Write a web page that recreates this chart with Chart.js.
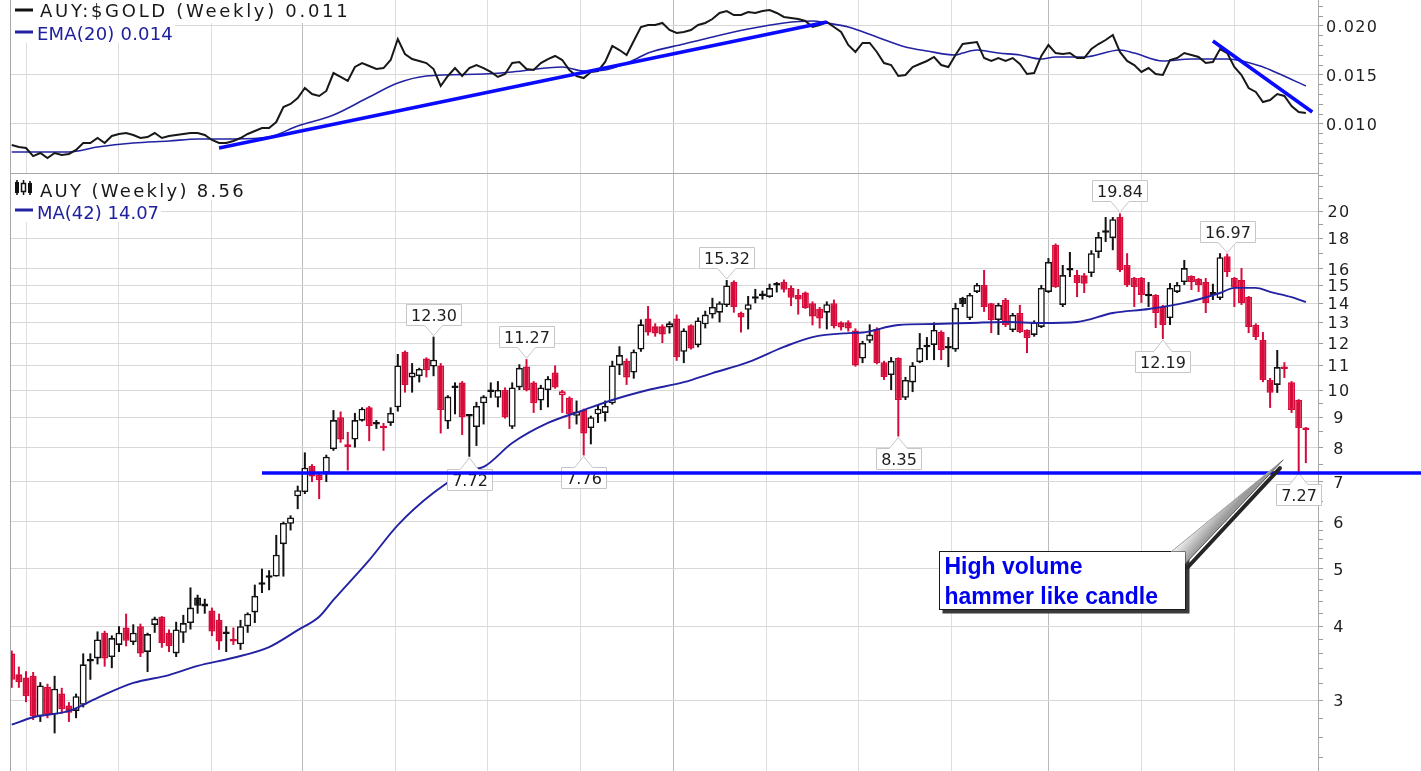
<!DOCTYPE html>
<html><head><meta charset="utf-8">
<script src="https://cdn.jsdelivr.net/npm/chart.js@4.4.1/dist/chart.umd.min.js"></script>
<style>
html,body{margin:0;padding:0;background:#fff;width:1421px;height:771px;overflow:hidden}
canvas{position:absolute;left:0;display:block}
#topC{top:0}
#botC{top:173px}
</style></head><body>
<canvas id="topC" width="1421" height="173"></canvas>
<canvas id="botC" width="1421" height="598"></canvas>
<script>
// ---------------- DATA ----------------
const open = [
3.60,3.32,3.28,3.30,2.82,3.16,2.84,3.08,2.94,2.88,
2.95,3.52,3.53,3.90,3.55,3.72,3.98,3.76,4.00,3.62,
4.02,4.15,3.90,3.60,3.90,4.05,4.47,4.32,4.25,4.10,
3.90,3.80,3.73,4.00,4.22,4.70,4.83,4.85,5.50,5.95,
6.62,6.73,7.45,7.20,7.25,7.95,9.00,8.10,8.25,8.88,
9.35,8.75,8.70,8.80,9.35,11.6,10.5,10.55,11.3,10.95,
11.0,8.85,10.1,10.3,9.05,8.66,9.50,9.92,9.70,10.0,
8.67,10.1,10.95,10.3,9.60,10.0,10.7,9.80,9.70,9.05,
9.25,8.63,9.10,9.15,9.50,11.0,11.2,10.7,11.7,13.2,
12.8,12.8,12.75,13.2,11.6,12.85,11.9,12.9,13.4,13.5,
13.9,15.2,13.5,13.65,14.3,14.4,14.35,15.0,15.2,14.85,
14.45,14.6,14.0,13.7,13.5,14.0,13.0,13.0,12.6,11.3,
12.1,12.67,11.14,10.6,11.32,9.70,10.3,11.14,11.8,11.91,
12.52,11.75,11.7,14.29,13.22,14.63,15.03,14.0,13.12,14.18,
12.62,13.48,12.62,12.38,12.77,14.63,17.55,13.91,15.9,15.62,
15.6,15.74,17.08,18.4,18.03,19.56,16.24,15.44,15.44,14.38,
14.46,13.8,13.22,14.63,15.2,15.56,15.38,15.2,14.46,14.29,
16.8,15.44,15.32,14.34,12.87,12.14,10.4,10.2,10.9,10.31,
9.62,8.6];
const high = [
3.64,3.42,3.36,3.35,3.22,3.20,3.30,3.15,2.98,3.08,
3.60,3.60,3.92,3.93,3.86,4.00,4.20,4.03,4.04,3.90,
4.15,4.16,3.95,4.07,4.18,4.65,4.52,4.45,4.30,4.20,
4.00,3.98,4.10,4.22,4.70,5.00,4.97,5.70,6.00,6.15,
6.90,7.85,7.50,7.25,7.78,9.25,9.20,8.50,9.15,9.35,
9.40,8.90,8.80,9.35,11.5,11.65,11.1,10.9,11.35,12.30,
11.1,9.80,10.3,10.35,9.10,9.55,9.80,10.3,10.35,10.1,
10.3,11.05,11.27,10.35,10.2,10.55,11.0,10.0,9.75,9.60,
9.30,9.05,9.45,9.60,11.2,11.85,11.3,11.7,13.15,13.85,
12.95,12.9,13.05,13.4,12.7,12.9,13.25,13.6,14.3,14.1,
15.32,15.3,13.55,14.4,14.8,14.7,15.1,15.2,15.35,15.0,
14.8,14.65,14.1,13.8,14.1,14.2,13.05,13.1,12.7,12.1,
12.9,12.75,11.2,11.36,11.35,10.52,11.14,12.47,12.28,13.0,
12.6,12.28,14.02,14.35,14.57,15.14,15.93,14.02,14.02,14.29,
13.48,13.91,12.65,13.1,15.03,16.68,17.65,16.24,17.08,15.93,
15.74,17.2,18.46,19.56,19.56,19.84,17.0,15.5,15.5,15.2,
14.5,13.91,15.14,15.2,16.56,15.6,15.44,15.44,15.1,17.0,
16.97,15.5,16.05,14.4,12.95,12.52,10.48,11.68,11.14,10.35,
9.65,8.66];
const low = [
3.15,3.15,2.98,2.78,2.76,2.80,2.64,2.85,2.76,2.80,
2.92,3.25,3.45,3.42,3.40,3.62,3.70,3.72,3.55,3.35,
3.90,3.68,3.62,3.55,3.75,3.95,4.20,4.20,3.85,3.65,
3.62,3.72,3.65,3.90,4.05,4.55,4.60,4.85,4.85,5.80,
6.30,6.68,7.00,6.55,7.00,7.90,8.15,7.32,8.00,8.85,
8.20,8.60,7.90,8.70,9.20,9.90,9.90,10.3,10.5,10.55,
8.45,8.60,9.10,8.40,7.72,8.05,8.75,9.70,9.35,8.95,
8.60,10.0,9.95,9.15,9.25,9.35,10.05,9.15,8.60,8.75,
7.76,8.10,8.80,8.85,9.45,10.6,10.2,10.45,11.6,12.35,
12.3,12.0,12.45,11.2,11.1,11.7,11.8,12.7,13.2,13.0,
13.8,13.5,12.5,12.65,14.0,14.2,14.3,14.6,14.6,13.85,
13.4,13.7,12.85,12.7,12.65,12.7,12.6,12.55,10.95,11.1,
12.0,11.05,10.4,10.0,8.35,9.62,9.92,11.1,11.23,11.23,
11.23,10.93,11.6,13.8,13.12,14.57,13.54,12.47,12.38,12.77,
12.52,12.47,11.54,12.3,12.72,14.57,14.86,13.8,15.5,14.34,
14.57,15.5,16.68,17.76,17.2,15.8,14.91,13.8,14.02,13.8,
12.72,12.19,12.87,14.57,15.03,14.74,14.63,13.48,14.18,14.18,
15.5,13.8,13.91,12.47,12.14,10.31,9.33,9.89,10.48,9.15,
7.27,7.53];
const close = [
3.25,3.22,3.05,2.82,3.18,2.84,3.14,2.90,2.86,3.05,
3.45,3.49,3.80,3.53,3.82,3.90,3.78,3.90,3.60,3.88,
4.12,3.75,3.70,3.95,4.05,4.30,4.33,4.37,3.92,3.77,
3.88,3.77,4.00,4.20,4.50,4.73,4.85,5.28,5.97,6.10,
6.78,7.40,7.15,7.05,7.72,8.90,8.25,8.02,8.90,9.30,
8.70,8.77,8.62,9.15,11.0,10.2,10.7,10.85,10.8,11.25,
9.25,9.75,10.08,9.00,9.02,9.40,9.75,9.97,10.0,9.00,
10.1,10.9,10.0,9.50,10.1,10.45,10.1,9.95,9.10,9.20,
8.45,9.00,9.30,9.40,11.0,11.45,10.5,11.6,12.9,12.5,
12.45,12.4,12.95,11.35,12.6,11.75,13.1,13.4,13.8,14.0,
15.0,13.8,13.25,13.95,14.25,14.45,14.85,15.02,14.75,14.3,
14.2,13.75,13.3,13.2,13.95,12.8,12.75,12.7,11.0,12.0,
12.4,11.1,10.52,11.2,9.62,10.4,11.0,11.77,11.85,12.62,
11.68,11.8,13.75,13.95,14.46,15.03,13.8,13.12,13.91,12.87,
13.38,12.52,12.23,13.02,14.86,16.43,14.91,15.62,15.95,15.14,
15.1,17.0,18.1,18.46,19.4,15.93,15.03,14.91,14.46,14.5,
13.48,12.87,14.86,15.03,16.05,15.2,15.03,14.02,14.63,16.74,
15.8,14.91,14.02,12.77,12.28,10.4,9.89,10.93,10.85,9.25,
8.63,8.56];
const ratio = [
0.00786,0.00765,0.00755,0.00673,0.00704,0.00653,0.00704,0.00684,0.00694,0.00735,
0.00806,0.00806,0.00857,0.00806,0.00878,0.00898,0.00908,0.00888,0.00857,0.00867,
0.00908,0.00857,0.00878,0.00888,0.00898,0.00908,0.00908,0.00888,0.00837,0.00806,
0.00806,0.00827,0.00857,0.00898,0.00929,0.00959,0.00959,0.0102,0.01173,0.01204,
0.01265,0.01367,0.01306,0.01286,0.01337,0.0152,0.0148,0.01439,0.01582,0.01622,
0.01592,0.01561,0.01571,0.01653,0.01867,0.01714,0.01663,0.01643,0.01622,0.01561,
0.01388,0.0149,0.01571,0.0149,0.01571,0.01602,0.01571,0.01531,0.0148,0.0151,
0.01622,0.01633,0.01561,0.01551,0.01622,0.01663,0.01694,0.01653,0.01551,0.0149,
0.01469,0.01531,0.01541,0.01633,0.01796,0.01755,0.01704,0.01847,0.0199,0.0201,
0.0201,0.02031,0.01959,0.01929,0.01939,0.01959,0.0201,0.02031,0.02071,0.02133,
0.02153,0.02112,0.02112,0.02143,0.02133,0.02153,0.02163,0.02133,0.02092,0.02082,
0.02071,0.02051,0.0199,0.0201,0.02041,0.0199,0.01939,0.01806,0.01735,0.01827,
0.01827,0.01735,0.01622,0.01602,0.0149,0.015,0.01582,0.01612,0.01643,0.01684,
0.01602,0.01582,0.01704,0.01816,0.01827,0.01837,0.01673,0.01643,0.01673,0.01643,
0.01673,0.01612,0.0151,0.0152,0.01694,0.01806,0.01724,0.01714,0.01724,0.01673,
0.01673,0.01765,0.01816,0.01857,0.01908,0.01735,0.01643,0.01602,0.01531,0.01571,
0.0151,0.015,0.01653,0.01673,0.01724,0.01704,0.01684,0.01622,0.01633,0.01765,
0.01724,0.01582,0.015,0.01367,0.01327,0.01224,0.01245,0.01306,0.01286,0.01184,
0.01122,0.01112];
const emaWeek = [0,8,12,17,22,26,31,36,40,45,50,54,58,66,70,77,80,83,87,89,94,98,103,108,112,114,117,121,125,128,132,133,135,138,141,144,146,150,155,157,161,165,170,175,177,181];
const emaVal  = [0.00714,0.00714,0.00765,0.00806,0.00827,0.00847,0.00847,0.00867,0.0098,0.01092,0.01276,0.01418,0.0149,0.0151,0.01531,0.01582,0.01541,0.01551,0.01653,0.01724,0.01816,0.01888,0.01969,0.02031,0.02051,0.02031,0.0199,0.01888,0.01786,0.01745,0.01704,0.01724,0.01755,0.01724,0.01704,0.01663,0.01684,0.01684,0.01755,0.01724,0.01643,0.01663,0.01663,0.01582,0.0152,0.01388];
const maWeek = [0,3,8,12,17,22,26,31,36,40,43,45,50,54,59,64,66,70,75,80,84,89,94,98,103,108,112,117,119,124,129,134,139,144,149,154,159,164,169,171,174,176,179,181];
const maVal  = [2.73,2.81,2.88,3.03,3.21,3.31,3.43,3.54,3.69,3.94,4.15,4.43,5.17,5.92,6.71,7.33,7.42,8.14,8.80,9.25,9.62,10.0,10.31,10.68,11.14,11.82,12.28,12.47,12.5,12.87,12.92,12.97,13.02,12.97,13.02,13.48,13.69,14.02,14.57,14.86,14.86,14.63,14.34,14.07];
const trendUpWeek = [29, 114];
const trendUpVal  = [0.00755, 0.0204];
const trendDownWeek = [168, 181.9];
const trendDownVal  = [0.01847, 0.01122];
const supportWeek = [35, 200];
const supportVal  = [7.25, 7.25];
const gridWeeks = [2, 15, 28, 40.7, 53.7, 66.6, 79.6, 92.5, 105.5, 118.4, 131.4, 145, 158, 171];
const yearWeeks = [40.7, 92.5, 145];
const ratioTicks = [0.010, 0.015, 0.020];
const ratioMinor = [0.006,0.007,0.008,0.009,0.011,0.012,0.013,0.014,0.016,0.017,0.018,0.019,0.021,0.022];
const priceTicks = [3,4,5,6,7,8,9,10,11,12,13,14,15,16,18,20];
const priceMinor = [2.4,2.6,2.8,3.2,3.4,3.6,3.8,4.2,4.4,4.6,4.8,5.2,5.4,5.6,5.8,6.5,7.5,8.5,9.5,17,19,21,22,23];
const highLabelIdx = [59, 72, 100, 155, 170];
const lowLabelIdx  = [64, 80, 124, 161, 180];
const calloutLines = ['High volume', 'hammer like candle'];
// ---------------- END DATA ----------------

const weeks = close.map((_, i) => i);
const RED = '#d60b3a', BLK = '#111111', NAVY = '#2222a2';
const FONT = '"DejaVu Sans", Verdana, sans-serif';
const candleColor = i => (close[i] < (i > 0 ? close[i - 1] : open[i])) ? RED : BLK;
const isFilled = i => close[i] < open[i];

function xAxis() {
  return {
    type: 'linear', min: -0.24, max: 182.7, offset: false,
    grid: { offset: false, drawTicks: false, lineWidth: 1,
      color: c => (c.tick && yearWeeks.includes(c.tick.value)) ? '#bcbcbc' : '#dedede' },
    border: { display: false },
    ticks: { display: false, autoSkip: false },
    afterBuildTicks: s => { s.ticks = gridWeeks.map(v => ({ value: v })); },
    afterFit: s => { s.height = 0; }
  };
}
function yAxis(type, min, max, majors, minors) {
  return {
    type, position: 'right', min, max,
    grid: { drawTicks: true, tickLength: 5, tickColor: '#9c9c9c',
      color: c => (c.tick && majors.includes(c.tick.value)) ? '#d8d8d8' : 'rgba(0,0,0,0)' },
    border: { display: true, color: '#a8a8a8' },
    ticks: { display: false, autoSkip: false },
    afterBuildTicks: s => { s.ticks = majors.concat(minors).map(v => ({ value: v })); },
    afterFit: s => { s.width = 103; }
  };
}
function whiteBg(chart) {
  const c = chart.ctx; c.save(); c.fillStyle = '#fff'; c.fillRect(0, 0, chart.width, chart.height); c.restore();
}
function tickLabels(chart, values, fmt, x, align) {
  const ctx = chart.ctx, ys = chart.scales.y;
  ctx.save();
  ctx.font = '16px ' + FONT; ctx.letterSpacing = '1.3px';
  ctx.fillStyle = '#1e1e1e'; ctx.textAlign = align; ctx.textBaseline = 'alphabetic';
  values.forEach(v => ctx.fillText(fmt(v), x, ys.getPixelForValue(v) + 6));
  ctx.restore();
}
function legendRows(ctx, rows) {
  rows.forEach(r => {
    ctx.save();
    ctx.font = '18px ' + FONT; ctx.letterSpacing = r.spacing + 'px';
    const w = ctx.measureText(r.text).width;
    ctx.fillStyle = '#fff'; ctx.fillRect(11, r.top, r.tx + w + 2 - 11, r.h);
    if (r.mark === 'line') {
      ctx.strokeStyle = r.color; ctx.lineWidth = 3;
      ctx.beginPath(); ctx.moveTo(15, r.my); ctx.lineTo(33, r.my); ctx.stroke();
    } else {
      const y = r.my;
      ctx.fillStyle = '#111'; ctx.strokeStyle = '#111'; ctx.lineWidth = 1.5;
      ctx.fillRect(15, y - 6, 4, 11); ctx.fillRect(16.2, y - 8, 1.6, 15);
      ctx.strokeRect(21.5, y - 4.5, 4, 8); ctx.fillRect(22.8, y - 8, 1.5, 3.5); ctx.fillRect(22.8, y + 3.5, 1.5, 3.5);
      ctx.fillRect(28, y - 5, 4, 10); ctx.fillRect(29.2, y - 7, 1.6, 14);
    }
    ctx.fillStyle = r.textColor; ctx.textBaseline = 'alphabetic'; ctx.textAlign = 'left';
    ctx.fillText(r.text, r.tx, r.base);
    ctx.restore();
  });
}
function priceLabel(ctx, cx, tipY, text, above) {
  ctx.save();
  ctx.font = '16px ' + FONT; ctx.letterSpacing = '0px';
  const w = Math.round(ctx.measureText(text).width + 9), h = 21, half = w / 2;
  const l = Math.round(cx - half) + 0.5, r = l + w;
  ctx.beginPath();
  let t, b;
  if (above) {
    b = Math.round(tipY - 11) + 0.5; t = b - h;
    ctx.moveTo(l, t); ctx.lineTo(r, t); ctx.lineTo(r, b); ctx.lineTo(cx + 9, b); ctx.lineTo(cx, tipY);
    ctx.lineTo(cx - 9, b); ctx.lineTo(l, b); ctx.closePath();
  } else {
    t = Math.round(tipY + 11) + 0.5; b = t + h;
    ctx.moveTo(l, t); ctx.lineTo(cx - 9, t); ctx.lineTo(cx, tipY); ctx.lineTo(cx + 9, t);
    ctx.lineTo(r, t); ctx.lineTo(r, b); ctx.lineTo(l, b); ctx.closePath();
  }
  ctx.fillStyle = '#fff'; ctx.fill();
  ctx.strokeStyle = '#c6c6c6'; ctx.lineWidth = 1; ctx.stroke();
  ctx.fillStyle = '#1e1e1e'; ctx.textAlign = 'center'; ctx.textBaseline = 'alphabetic';
  ctx.fillText(text, (l + r) / 2, (t + b) / 2 + 6);
  ctx.restore();
}

// ---------------- TOP CHART ----------------
const topDecor = {
  id: 'topDecor',
  beforeDraw: whiteBg,
  afterDraw(chart) {
    const ctx = chart.ctx, a = chart.chartArea;
    ctx.save(); ctx.strokeStyle = '#a8a8a8'; ctx.lineWidth = 1;
    ctx.beginPath(); ctx.moveTo(a.left + 0.5, a.top); ctx.lineTo(a.left + 0.5, a.bottom); ctx.stroke();
    ctx.restore();
    tickLabels(chart, ratioTicks, v => v.toFixed(3), a.right + 8, 'left');
    legendRows(ctx, [
      { mark: 'line', color: '#111', my: 10, text: 'AUY:$GOLD (Weekly) ' + ratio[ratio.length - 1].toFixed(3), spacing: 2.7, textColor: '#181818', tx: 40, base: 16.5, top: 0, h: 23 },
      { mark: 'line', color: NAVY, my: 32, text: 'EMA(20) ' + emaVal[emaVal.length - 1].toFixed(3), spacing: 0.2, textColor: '#20209e', tx: 37, base: 39.5, top: 23, h: 20 }
    ]);
  }
};
new Chart(document.getElementById('topC'), {
  type: 'line',
  data: { datasets: [
    { label: 'EMA', data: emaWeek.map((w, k) => ({ x: w, y: emaVal[k] })), borderColor: NAVY, borderWidth: 1.6, pointRadius: 0, cubicInterpolationMode: 'monotone', order: 4 },
    { label: 'ratio', data: weeks.map(i => ({ x: i, y: ratio[i] })), borderColor: '#181818', borderWidth: 2, pointRadius: 0, tension: 0, order: 3 },
    { label: 'trendUp', data: trendUpWeek.map((w, k) => ({ x: w, y: trendUpVal[k] })), borderColor: '#0a0aff', borderWidth: 3.6, pointRadius: 0, order: 1 },
    { label: 'trendDown', data: trendDownWeek.map((w, k) => ({ x: w, y: trendDownVal[k] })), borderColor: '#0a0aff', borderWidth: 3.6, pointRadius: 0, order: 1 }
  ]},
  options: {
    responsive: false, animation: false, events: [], devicePixelRatio: 1,
    layout: { padding: { left: 10, right: 0, top: 0, bottom: 0 } },
    plugins: { legend: { display: false }, tooltip: { enabled: false } },
    scales: { x: xAxis(), y: yAxis('linear', 0.005, 0.022653, ratioTicks, ratioMinor) }
  },
  plugins: [topDecor]
});

// ---------------- BOTTOM CHART ----------------
const botDecor = {
  id: 'botDecor',
  beforeDraw: whiteBg,
  afterDatasetDraw(chart, args) {
    if (args.index !== 2) return;
    const ctx = chart.ctx, xs = chart.scales.x, ys = chart.scales.y;
    highLabelIdx.forEach(i => priceLabel(ctx, xs.getPixelForValue(i), ys.getPixelForValue(high[i]) - 1, high[i].toFixed(2), true));
    lowLabelIdx.forEach(i => priceLabel(ctx, xs.getPixelForValue(i), ys.getPixelForValue(low[i]) + 1, low[i].toFixed(2), false));
  },
  afterDraw(chart) {
    const ctx = chart.ctx, a = chart.chartArea, xs = chart.scales.x, ys = chart.scales.y;
    ctx.save(); ctx.strokeStyle = '#a8a8a8'; ctx.lineWidth = 1;
    ctx.beginPath(); ctx.moveTo(a.left + 0.5, a.top); ctx.lineTo(a.left + 0.5, a.bottom); ctx.stroke();
    ctx.beginPath(); ctx.moveTo(a.left, a.top + 0.5); ctx.lineTo(a.right, a.top + 0.5); ctx.stroke();
    ctx.restore();
    tickLabels(chart, priceTicks, v => String(v), a.right + 21, 'center');
    legendRows(ctx, [
      { mark: 'candle', my: 15, text: 'AUY (Weekly) ' + close[close.length - 1].toFixed(2), spacing: 2.3, textColor: '#181818', tx: 40, base: 23.5, top: 1, h: 26 },
      { mark: 'line', color: NAVY, my: 37, text: 'MA(42) ' + maVal[maVal.length - 1].toFixed(2), spacing: 0, textColor: '#20209e', tx: 37, base: 45.5, top: 27, h: 22 }
    ]);
    // callout
    const L = Math.round(xs.getPixelForValue(129.7)) + 0.5, R = Math.round(xs.getPixelForValue(164.1)) + 0.5;
    const T = Math.round(ys.getPixelForValue(5.355)) + 0.5, B = Math.round(ys.getPixelForValue(4.276)) + 0.5;
    const tx = xs.getPixelForValue(177.8), ty = ys.getPixelForValue(7.62);
    ctx.save();
    ctx.fillStyle = '#3a3a3a'; ctx.fillRect(L + 3, T + 3, R - L + 1, B - T + 1);
    ctx.strokeStyle = '#262626'; ctx.lineWidth = 4; ctx.lineCap = 'round';
    ctx.beginPath(); ctx.moveTo(R + 2, T + 16); ctx.lineTo(tx - 3, ty + 8); ctx.stroke();
    ctx.fillStyle = '#fff'; ctx.fillRect(L, T, R - L, B - T);
    ctx.strokeStyle = '#1a1a1a'; ctx.lineWidth = 1; ctx.strokeRect(L, T, R - L, B - T);
    const ax = R - 14, by = T + 12;
    const g = ctx.createLinearGradient(ax, T, R, by);
    g.addColorStop(0, '#f4f4f4'); g.addColorStop(1, '#9a9a9a');
    ctx.beginPath(); ctx.moveTo(ax, T); ctx.lineTo(tx, ty); ctx.lineTo(R, by); ctx.lineTo(R, T); ctx.closePath();
    ctx.fillStyle = g; ctx.fill();
    ctx.strokeStyle = '#a0a0a0'; ctx.beginPath(); ctx.moveTo(ax, T); ctx.lineTo(tx, ty); ctx.stroke();
    ctx.strokeStyle = '#555'; ctx.beginPath(); ctx.moveTo(tx, ty); ctx.lineTo(R, by); ctx.stroke();
    ctx.fillStyle = '#0000ee'; ctx.font = 'bold 23px "Liberation Sans", Arial, sans-serif';
    ctx.textBaseline = 'alphabetic'; ctx.textAlign = 'left';
    ctx.fillText(calloutLines[0], L + 5, T + 22);
    ctx.fillText(calloutLines[1], L + 5, T + 52);
    ctx.restore();
  }
};
new Chart(document.getElementById('botC'), {
  type: 'bar',
  data: { datasets: [
    { label: 'wick', data: weeks.map(i => ({ x: i, y: [low[i], high[i]] })), grouped: false, barThickness: 2,
      backgroundColor: c => candleColor(c.dataIndex), borderWidth: 0, inflateAmount: 0, order: 4 },
    { label: 'body', data: weeks.map(i => ({ x: i, y: [open[i], close[i]] })), grouped: false, barThickness: 7,
      minBarLength: 2.5, borderSkipped: false, borderWidth: 1.6, inflateAmount: 0,
      backgroundColor: c => isFilled(c.dataIndex) ? candleColor(c.dataIndex) : '#ffffff',
      borderColor: c => candleColor(c.dataIndex), order: 3 },
    { type: 'line', label: 'MA', data: maWeek.map((w, k) => ({ x: w, y: maVal[k] })), borderColor: NAVY, borderWidth: 1.9,
      pointRadius: 0, cubicInterpolationMode: 'monotone', order: 2 },
    { type: 'line', label: 'support', data: supportWeek.map((w, k) => ({ x: w, y: supportVal[k] })), borderColor: '#0a0aff',
      borderWidth: 3.5, pointRadius: 0, clip: false, order: 1 }
  ]},
  options: {
    responsive: false, animation: false, events: [], devicePixelRatio: 1,
    layout: { padding: { left: 10, right: 0, top: 0, bottom: 0 } },
    plugins: { legend: { display: false }, tooltip: { enabled: false } },
    scales: { x: xAxis(), y: yAxis('logarithmic', 2.2814, 23.204, priceTicks, priceMinor) }
  },
  plugins: [botDecor]
});
</script>
</body></html>
